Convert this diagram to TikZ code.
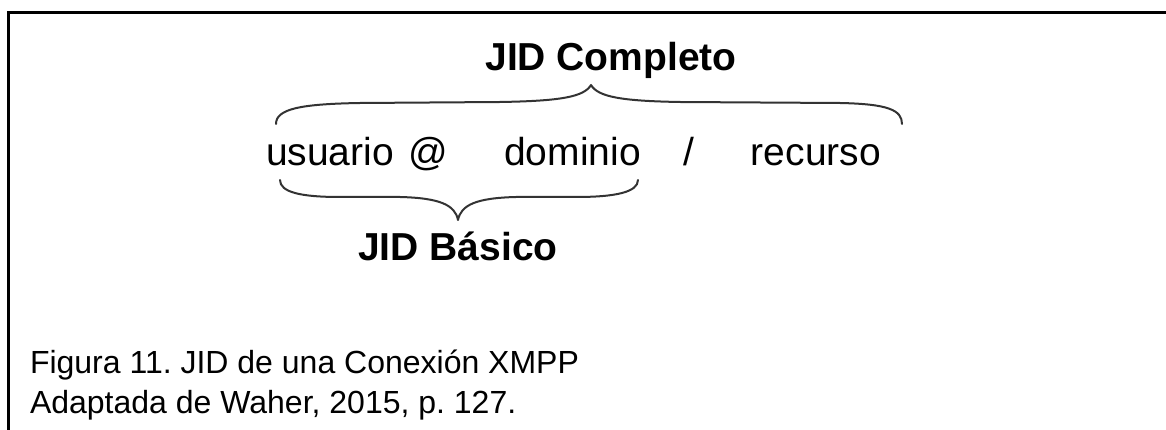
\documentclass[tikz,border=0pt]{standalone}
\usepackage{fontspec}
\setmainfont{Liberation Sans}
\frenchspacing
\begin{document}
\begin{tikzpicture}[x=1pt,y=-1pt,
  lbl/.style={inner sep=0pt,outer sep=0pt,anchor=base,text=black},
  big/.style={lbl,font=\fontsize{39pt}{47pt}\selectfont\bfseries},
  mid/.style={lbl,font=\fontsize{39pt}{47pt}\selectfont},
  captext/.style={lbl,anchor=base west,font=\fontsize{32pt}{40pt}\selectfont},
  bracestroke/.style={draw=black!80,line width=2pt,line cap=round,line join=round},
  frame/.style={draw=black,line width=3pt}]
\useasboundingbox (0,0) rectangle (1166,430);
% frame
\draw[frame] (8.5,430) -- (8.5,12.5) -- (1166,12.5);
% texts
\node[big] (completo) at (611,71) {JID Completo};
\node[mid] (usuario) at (330,166) {usuario};
\node[mid] (arroba) at (428.5,166) {@};
\node[mid] (dominio) at (572.5,166) {dominio};
\node[mid] (barra) at (688.5,166) {/};
\node[mid] (recurso) at (816,166) {recurso};
\node[big] (basico) at (458,260) {JID Básico};
\node[captext] (figura) at (30,373) {Figura 11. JID de una Conexión XMPP};
\node[captext] (fuente) at (30,413) {Adaptada de Waher, 2015, p. 127.};
% top brace
\coordinate (tl) at (276,124);
\coordinate (tt) at (591,85);
\coordinate (tr) at (902,124);
\draw[bracestroke] (tl) .. controls (276,109) and (300,104) .. (360,103)
  -- (500,102) .. controls (560,101) and (584,97) .. (tt)
  .. controls (598,97) and (622,101) .. (680,102)
  -- (840,103) .. controls (888,104) and (902,110) .. (tr);
% bottom brace
\coordinate (bl) at (280,180);
\coordinate (bt) at (458,220);
\coordinate (br) at (638,180);
\draw[bracestroke] (bl) .. controls (280,192) and (300,197) .. (340,197)
  -- (400,197) .. controls (440,198) and (455,205) .. (bt)
  .. controls (461,205) and (476,198) .. (516,197)
  -- (576,197) .. controls (616,197) and (638,192) .. (br);
\end{tikzpicture}
\end{document}
